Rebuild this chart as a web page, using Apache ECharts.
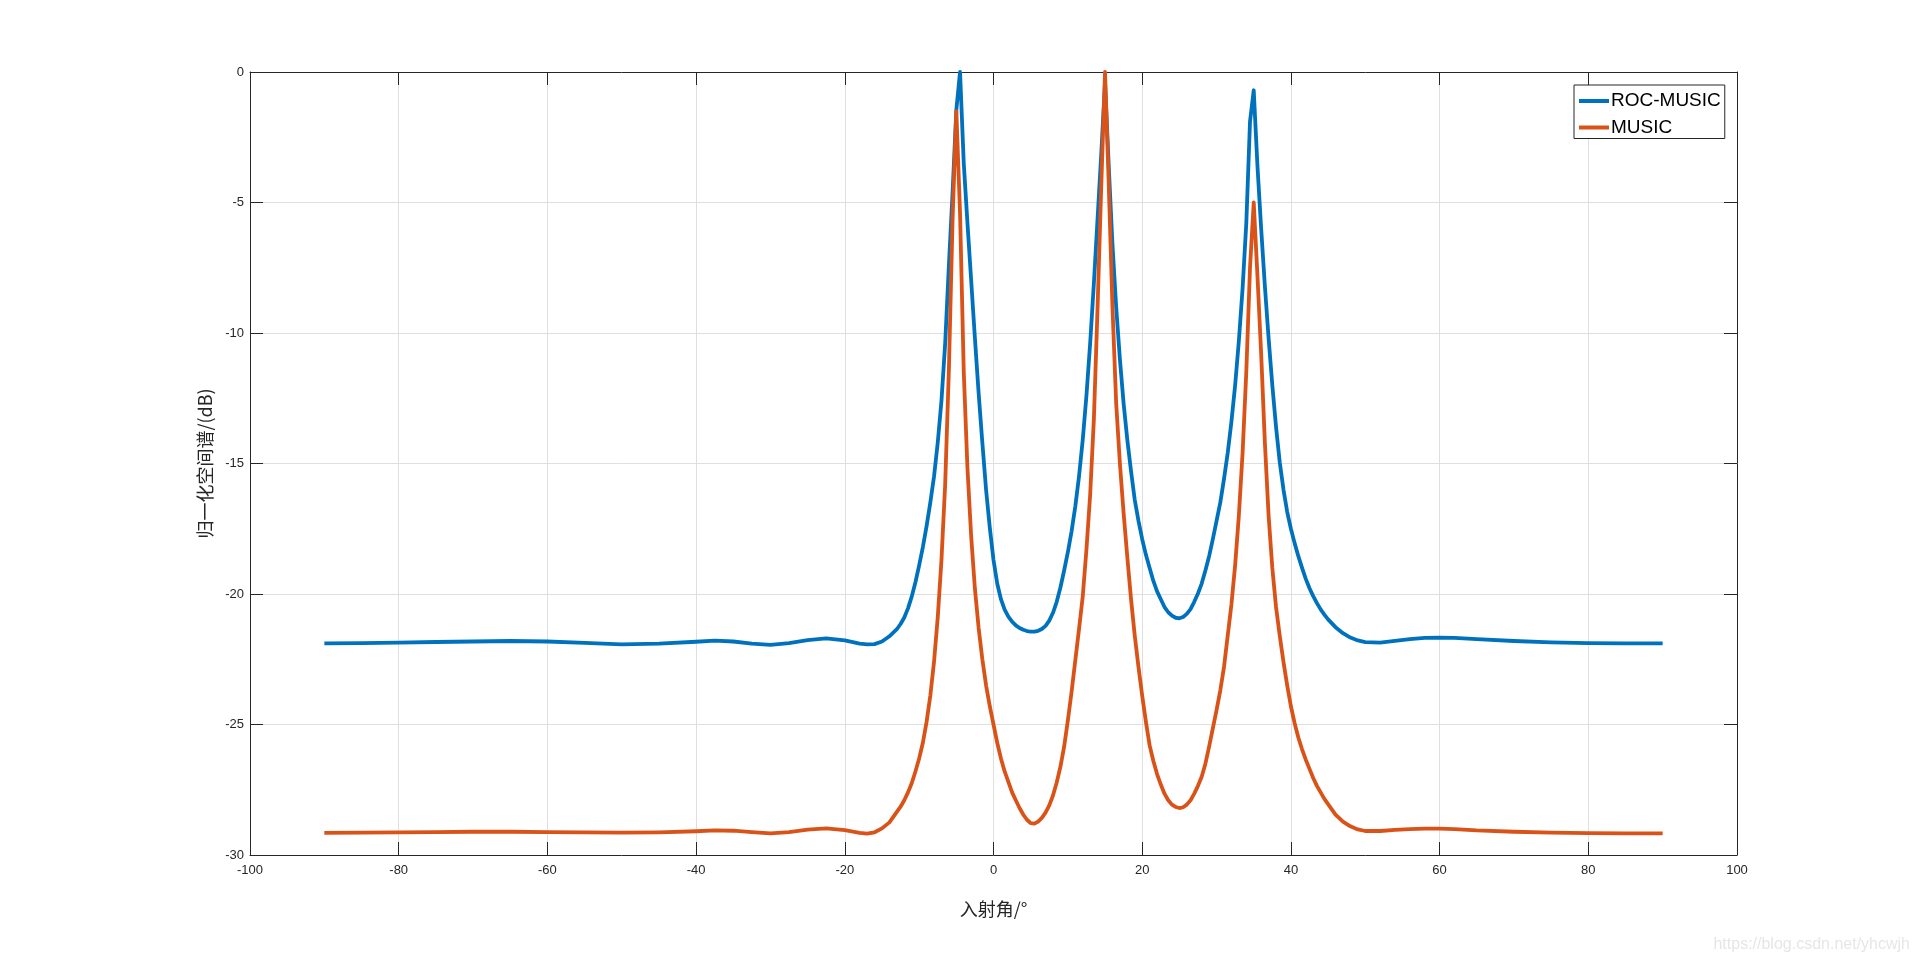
<!DOCTYPE html>
<html>
<head>
<meta charset="utf-8">
<script src="https://cdn.jsdelivr.net/npm/echarts@6/dist/echarts.min.js"></script>
<style>
html,body{margin:0;padding:0;background:#fff;}
#chart{width:1920px;height:962px;}
</style>
</head>
<body>
<div id="chart"></div>
<script>
// Incidence angles (degrees)
const angles = [
  -90,-85,-80,-75,-70,-65,-60,-55,-50,-45,-40,-37.5,-35,-32.5,-30,-27.5,-25,-22.5,-20,-18,-17,-16,-15,-14,
  -13,-12.5,-12,-11.5,-11,-10.5,-10,-9.5,-9,-8.5,-8,-7.5,-7,-6.5,-6,-5.5,-5,-4.5,-4,-3.5,-3,-2.5,-2,-1.5,-1,-0.5,
  0,0.5,1,1.5,2,2.5,3,3.5,4,4.5,5,5.5,6,6.5,7,7.5,8,8.5,9,9.5,10,10.5,11,11.5,12,12.5,13,13.5,14,14.5,
  15,15.5,16,16.5,17,17.5,18,18.5,19,19.5,20,20.5,21,21.5,22,22.5,23,23.5,24,24.5,25,25.5,26,26.5,27,27.5,
  28,28.5,29,29.5,30,30.5,31,31.5,32,32.5,33,33.5,34,34.5,35,35.5,36,36.5,37,37.5,38,38.5,39,39.5,40,40.5,
  41,41.5,42,42.5,43,43.5,44,44.5,45,
  46,47,48,49,50,52,54,56,58,60,62,65,70,75,80,85,90
];
// ROC-MUSIC normalized spectrum (dB)
const rocMusic = [
  -21.89,-21.88,-21.86,-21.84,-21.82,-21.80,-21.82,-21.87,-21.93,-21.90,-21.83,-21.79,-21.82,-21.90,-21.95,-21.88,-21.77,-21.70,-21.78,-21.90,-21.93,-21.92,-21.82,-21.62,
  -21.35,-21.15,-20.90,-20.55,-20.10,-19.55,-18.90,-18.20,-17.40,-16.50,-15.50,-14.20,-12.60,-10.40,-7.40,-4.60,-1.45,0,-3.50,-5.80,-8.00,-10.20,-12.30,-14.20,-16.00,-17.45,
  -18.70,-19.60,-20.20,-20.60,-20.87,-21.06,-21.20,-21.30,-21.37,-21.42,-21.44,-21.44,-21.41,-21.34,-21.22,-21.02,-20.72,-20.30,-19.75,-19.10,-18.40,-17.60,-16.65,-15.50,-14.10,-12.40,-10.40,-8.10,-5.60,-3.10,
  -0.40,-3.60,-6.60,-9.00,-11.00,-12.70,-14.10,-15.30,-16.40,-17.20,-17.90,-18.50,-19.00,-19.50,-19.90,-20.20,-20.50,-20.70,-20.83,-20.91,-20.93,-20.88,-20.76,-20.58,-20.30,-19.98,
  -19.60,-19.10,-18.55,-17.90,-17.20,-16.50,-15.60,-14.60,-13.40,-12.00,-10.30,-8.30,-5.80,-1.90,-0.70,-3.60,-6.00,-8.20,-10.20,-12.00,-13.60,-14.95,-16.00,-16.85,-17.50,-18.05,
  -18.55,-19.00,-19.42,-19.78,-20.08,-20.35,-20.59,-20.79,-20.97,
  -21.27,-21.50,-21.67,-21.78,-21.84,-21.86,-21.80,-21.73,-21.68,-21.67,-21.68,-21.73,-21.80,-21.85,-21.88,-21.89,-21.89
];
// MUSIC normalized spectrum (dB)
const music = [
  -29.15,-29.14,-29.13,-29.12,-29.11,-29.11,-29.12,-29.13,-29.14,-29.13,-29.09,-29.06,-29.07,-29.12,-29.17,-29.12,-29.03,-28.98,-29.05,-29.15,-29.18,-29.13,-28.98,-28.75,
  -28.35,-28.15,-27.90,-27.60,-27.25,-26.80,-26.30,-25.70,-24.90,-23.90,-22.60,-20.90,-18.70,-15.80,-11.40,-5.60,-1.50,-5.40,-11.50,-15.20,-17.80,-19.80,-21.30,-22.50,-23.50,-24.30,
  -25.00,-25.70,-26.30,-26.80,-27.20,-27.60,-27.90,-28.20,-28.45,-28.65,-28.78,-28.80,-28.72,-28.58,-28.38,-28.10,-27.72,-27.22,-26.62,-25.85,-24.85,-23.75,-22.55,-21.35,-20.10,-18.30,-16.20,-13.30,-9.00,-4.30,
  0,-4.30,-9.00,-12.70,-15.00,-16.90,-18.60,-20.20,-21.60,-22.80,-23.90,-24.90,-25.80,-26.40,-26.90,-27.30,-27.65,-27.90,-28.07,-28.16,-28.20,-28.17,-28.07,-27.90,-27.65,-27.35,
  -27.00,-26.50,-25.85,-25.15,-24.45,-23.70,-22.80,-21.60,-20.40,-18.90,-17.00,-14.60,-11.50,-7.50,-5.00,-7.80,-10.80,-14.20,-17.00,-19.00,-20.50,-21.60,-22.60,-23.50,-24.30,-24.95,
  -25.50,-25.95,-26.35,-26.70,-27.05,-27.35,-27.60,-27.85,-28.05,
  -28.45,-28.72,-28.90,-29.02,-29.08,-29.08,-29.04,-29.01,-28.99,-28.99,-29.01,-29.06,-29.11,-29.14,-29.16,-29.17,-29.17
];
const seriesNames = ['ROC-MUSIC', 'MUSIC'];
const xTitle = '入射角/°';
const yTitle = '归一化空间谱/(dB)';
const watermark = 'https://blog.csdn.net/yhcwjh';

const pairs = ys => angles.map((a, i) => [a, ys[i]]);

const chart = echarts.init(document.getElementById('chart'), null, {renderer: 'canvas'});
const axisColor = '#262626';
const font = '"Liberation Sans", Arial, Helvetica, sans-serif';
const cjk = '"Noto Sans CJK SC", "Liberation Sans", sans-serif';

chart.setOption({
  animation: false,
  backgroundColor: '#ffffff',
  grid: {left: 250, right: 183, top: 72, bottom: 107, containLabel: false},
  legend: {
    orient: 'vertical',
    left: 1574, top: 85,
    padding: [6.5, 4, 1.5, 5],
    itemGap: 7.5,
    itemWidth: 30, itemHeight: 4,
    icon: 'rect',
    backgroundColor: '#ffffff',
    borderColor: '#262626', borderWidth: 1,
    textStyle: {fontFamily: font, fontSize: 19, color: '#000', padding: [0, 0, 0, -3]},
    data: seriesNames
  },
  xAxis: [{
    type: 'value', min: -100, max: 100, interval: 20,
    name: xTitle, nameLocation: 'middle', nameGap: 45,
    nameTextStyle: {fontFamily: cjk, fontSize: 18, color: axisColor},
    axisLine: {show: true, onZero: false, lineStyle: {color: axisColor, width: 1}},
    axisTick: {show: true, inside: true, length: 13, lineStyle: {color: axisColor}},
    axisLabel: {margin: 9, fontFamily: font, fontSize: 13, color: axisColor},
    splitLine: {show: true, lineStyle: {color: '#dfdfdf', width: 1}}
  }, {
    type: 'value', min: -100, max: 100, interval: 20, position: 'top',
    axisLine: {show: true, onZero: false, lineStyle: {color: axisColor, width: 1}},
    axisTick: {show: true, inside: true, length: 13, lineStyle: {color: axisColor}},
    axisLabel: {show: false}, splitLine: {show: false}
  }],
  yAxis: [{
    type: 'value', min: -30, max: 0, interval: 5,
    name: yTitle, nameLocation: 'middle', nameGap: 26, nameRotate: 90,
    nameTextStyle: {fontFamily: cjk, fontSize: 18, color: axisColor},
    axisLine: {show: true, onZero: false, lineStyle: {color: axisColor, width: 1}},
    axisTick: {show: true, inside: true, length: 13, lineStyle: {color: axisColor}},
    axisLabel: {margin: 6, fontFamily: font, fontSize: 13, color: axisColor},
    splitLine: {show: true, lineStyle: {color: '#dfdfdf', width: 1}}
  }, {
    type: 'value', min: -30, max: 0, interval: 5, position: 'right',
    axisLine: {show: true, onZero: false, lineStyle: {color: axisColor, width: 1}},
    axisTick: {show: true, inside: true, length: 13, lineStyle: {color: axisColor}},
    axisLabel: {show: false}, splitLine: {show: false}
  }],
  series: [{
    name: seriesNames[0], type: 'line', data: pairs(rocMusic),
    showSymbol: false, smooth: false, clip: false,
    lineStyle: {color: '#0072BD', width: 3.8, join: 'round'},
    itemStyle: {color: '#0072BD'}, z: 2
  }, {
    name: seriesNames[1], type: 'line', data: pairs(music),
    showSymbol: false, smooth: false, clip: false,
    lineStyle: {color: '#D95319', width: 3.8, join: 'round'},
    itemStyle: {color: '#D95319'}, z: 3
  }],
  graphic: [{
    type: 'text', right: 10, top: 937,
    style: {text: watermark, fontFamily: font, fontSize: 16, fill: '#e6e6e6'}
  }]
});
</script>
</body>
</html>
